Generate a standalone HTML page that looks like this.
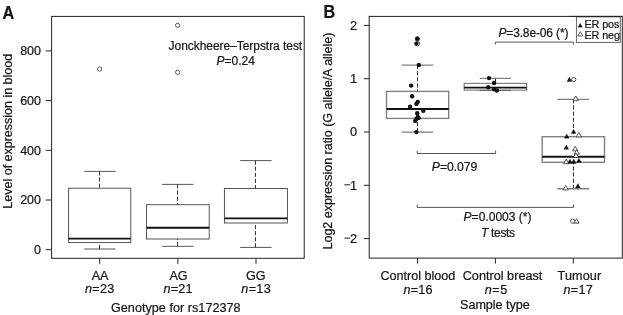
<!DOCTYPE html>
<html>
<head>
<meta charset="utf-8">
<title>Figure</title>
<style>
html,body{margin:0;padding:0;background:#fff;}
body{width:623px;height:315px;overflow:hidden;font-family:"Liberation Sans",sans-serif;}
svg{display:block;will-change:transform;filter:grayscale(1);}
svg text{font-family:"Liberation Sans",sans-serif;fill:#161616;stroke:#161616;stroke-width:0.22px;}
.ax{stroke:#222;stroke-width:1;fill:none;}
.bx{stroke:#444;stroke-width:0.9;fill:none;}
.wh{stroke:#333;stroke-width:1;fill:none;stroke-dasharray:4.1 2;}
.md{stroke:#111;stroke-width:1.9;fill:none;}
.gy{stroke:#808080;stroke-width:1.4;fill:none;}
.oc{stroke:#333;stroke-width:0.8;fill:#fff;}
.fc{fill:#111;stroke:none;}
.ft{fill:#111;stroke:#111;stroke-width:0.3;}
.ot{fill:#fff;stroke:#222;stroke-width:0.75;}
.i{font-style:italic;}
</style>
</head>
<body>
<svg width="623" height="315" viewBox="0 0 623 315">
<rect x="0" y="0" width="623" height="315" fill="#fff"/>

<!-- ================= PANEL A ================= -->
<g id="panelA">
<text transform="translate(2.5 19) scale(1 1.13)" font-size="16.2" font-weight="700">A</text>
<rect class="ax" x="51.6" y="16.4" width="252.6" height="241.9"/>
<!-- y ticks -->
<path class="ax" d="M45.7 50.9H51.6M45.7 100.6H51.6M45.7 150.3H51.6M45.7 200H51.6M45.7 249.7H51.6"/>
<g font-size="12.5" text-anchor="end">
<text x="41" y="55.2">800</text>
<text x="41" y="104.9">600</text>
<text x="41" y="154.6">400</text>
<text x="41" y="204.3">200</text>
<text x="41" y="254">0</text>
</g>
<!-- x ticks -->
<path class="ax" d="M99.7 258.3V263.8M177.9 258.3V263.8M256 258.3V263.8"/>
<g font-size="12.6" text-anchor="middle">
<text x="100.1" y="280.4">AA</text>
<text x="178.6" y="280.4" textLength="18" lengthAdjust="spacing">AG</text>
<text x="255.7" y="280.4" textLength="19.6" lengthAdjust="spacing">GG</text>
<text x="99.6" y="292.8" textLength="29.4" lengthAdjust="spacing"><tspan class="i">n</tspan>=23</text>
<text x="178" y="292.8" textLength="29.2" lengthAdjust="spacing"><tspan class="i">n</tspan>=21</text>
<text x="256" y="292.8" textLength="29.4" lengthAdjust="spacing"><tspan class="i">n</tspan>=13</text>
<text x="175.8" y="311.6" textLength="129.6" lengthAdjust="spacing">Genotype for rs172378</text>
</g>
<text transform="translate(11.5 131.2) rotate(-90)" font-size="12.6" text-anchor="middle" textLength="154.9" lengthAdjust="spacing">Level of expression in blood</text>

<!-- AA -->
<path class="wh" d="M99.5 171.4V188.2M99.5 249V242.6"/>
<path class="bx" d="M84.3 171.4H115.6M84.3 249H115.6"/>
<rect class="bx" x="68.6" y="188.2" width="62.2" height="54.4" fill="#fff"/>
<path class="md" d="M68.6 238.6H130.8"/>
<!-- AG -->
<path class="wh" d="M177.5 184.4V204.7M177.5 246.3V239"/>
<path class="bx" d="M162.2 184.4H193.5M162.2 246.3H193.5"/>
<rect class="bx" x="146.5" y="204.7" width="62.7" height="34.3" fill="#fff"/>
<path class="md" d="M146.5 227.8H209.2"/>
<!-- GG -->
<path class="wh" d="M255.5 160.6V188.5M255.5 247.4V223"/>
<path class="bx" d="M240.1 160.6H271.6M240.1 247.4H271.6"/>
<rect class="bx" x="224.4" y="188.5" width="63" height="34.5" fill="#fff"/>
<path class="md" d="M224.4 218.4H287.4"/>
<!-- outliers -->
<circle class="oc" cx="99.6" cy="69" r="2.1"/>
<circle class="oc" cx="177.6" cy="25.3" r="2.1"/>
<circle class="oc" cx="177.6" cy="72.3" r="2.1"/>
<!-- annotation -->
<text x="168.6" y="49.7" font-size="12" textLength="133.6" lengthAdjust="spacing">Jonckheere–Terpstra test</text>
<text x="216.4" y="64.7" font-size="12" textLength="38.6" lengthAdjust="spacing"><tspan class="i">P</tspan>=0.24</text>
</g>

<!-- ================= PANEL B ================= -->
<g id="panelB">
<text transform="translate(323.4 18) scale(1 1.13)" font-size="16.2" font-weight="700">B</text>
<rect class="ax" x="369.2" y="16.4" width="253.1" height="241.7"/>
<!-- y ticks -->
<path class="ax" d="M363.9 25.4H369.2M363.9 78.7H369.2M363.9 132H369.2M363.9 185.3H369.2M363.9 238.6H369.2"/>
<g font-size="12.7" text-anchor="end">
<text x="357.1" y="29.7">2</text>
<text x="357.1" y="83">1</text>
<text x="357.1" y="136.3">0</text>
<text x="357.1" y="189.6">1</text>
<text x="357.1" y="242.9">2</text>
</g>
<path d="M344.4 184.8H350.2M344.4 238.1H350.2" stroke="#1c1c1c" stroke-width="1" fill="none"/>
<!-- x ticks -->
<path class="ax" d="M417.6 258.1V263.6M495.4 258.1V263.6M573.3 258.1V263.6"/>
<g font-size="12.6" text-anchor="middle">
<text x="417.8" y="280" textLength="74.8" lengthAdjust="spacing">Control blood</text>
<text x="502.5" y="280" textLength="79.6" lengthAdjust="spacing">Control breast</text>
<text x="579.4" y="280" textLength="43.6" lengthAdjust="spacing">Tumour</text>
<text x="418" y="293.8" textLength="29.2" lengthAdjust="spacing"><tspan class="i">n</tspan>=16</text>
<text x="496" y="293.8" textLength="22.4" lengthAdjust="spacing"><tspan class="i">n</tspan>=5</text>
<text x="578.1" y="293.8" textLength="29.2" lengthAdjust="spacing"><tspan class="i">n</tspan>=17</text>
<text x="494.9" y="308.9" textLength="69.7" lengthAdjust="spacing">Sample type</text>
</g>
<text transform="translate(332 141) rotate(-90)" font-size="12.6" text-anchor="middle" textLength="217" lengthAdjust="spacing">Log2 expression ratio (G allele/A allele)</text>

<!-- Control blood -->
<path class="wh" d="M417.5 65.1V91.4M417.5 132.1V118.4"/>
<path class="gy" d="M401.6 65.1H433.2M401.6 132.1H433.2"/>
<rect class="gy" x="386.5" y="91.4" width="62.2" height="27" fill="#fff"/>
<path class="md" d="M386.5 109H448.7"/>
<!-- Control breast -->
<path class="wh" d="M495.5 78.3V83.3"/>
<path class="gy" d="M479.7 78.3H511M479.7 90.4H511" style="stroke:#555;stroke-width:0.9"/>
<rect class="gy" x="464.1" y="83.3" width="62.6" height="6.8" fill="#fff" style="stroke:#5a5a5a;stroke-width:0.9"/>
<path class="md" d="M464.1 87.6H526.7" style="stroke-width:1.6"/>
<!-- Tumour -->
<path class="wh" d="M573.5 99.4V136.7M573.5 188.8V162.3"/>
<path class="gy" d="M557.4 99.4H589.2M557.4 188.8H589.2"/>
<rect class="gy" x="542.2" y="136.7" width="62.3" height="25.6" fill="#fff"/>
<path class="md" d="M542.2 156.7H604.5"/>

<!-- brackets -->
<path class="bx" d="M417.2 150.7V153.5H495.6V150.7"/>
<path class="bx" d="M417.2 204.5V207.4H573.5V204.5"/>
<path class="bx" d="M495.4 44.6V42.1H573.4V44.6"/>
<text x="431.8" y="170.6" font-size="12.2" textLength="45.6" lengthAdjust="spacing"><tspan class="i">P</tspan>=0.079</text>
<text x="463.6" y="220.8" font-size="12" textLength="67.9" lengthAdjust="spacing"><tspan class="i">P</tspan>=0.0003 (*)</text>
<text x="480.9" y="237.4" font-size="12" textLength="34.2" lengthAdjust="spacing"><tspan class="i">T</tspan> tests</text>
<text x="498.4" y="37.1" font-size="12" textLength="70" lengthAdjust="spacing"><tspan class="i">P</tspan>=3.8e-06 (*)</text>

<!-- points: control blood -->
<g>
<circle class="oc" cx="417.4" cy="39" r="2.1"/>
<circle class="oc" cx="417.6" cy="43.8" r="2.1"/>
<circle class="fc" cx="417.3" cy="38.8" r="2.2"/>
<circle class="fc" cx="416.4" cy="43.6" r="2.2"/>
<circle class="fc" cx="418.8" cy="65" r="2.2"/>
<circle class="fc" cx="411.1" cy="85.6" r="2.2"/>
<circle class="fc" cx="412.1" cy="96.3" r="2.2"/>
<circle class="fc" cx="417.7" cy="101.9" r="2.2"/>
<circle class="fc" cx="416.4" cy="103.9" r="2.2"/>
<circle class="fc" cx="410.1" cy="106.7" r="2.2"/>
<circle class="fc" cx="423.3" cy="110.8" r="2.2"/>
<circle class="fc" cx="417.2" cy="113.3" r="2.2"/>
<circle class="fc" cx="417.7" cy="116.9" r="2.2"/>
<circle class="fc" cx="418.7" cy="117.9" r="2.2"/>
<circle class="fc" cx="416.2" cy="119.1" r="2.2"/>
<circle class="fc" cx="415.2" cy="120.9" r="2.2"/>
<circle class="fc" cx="416.4" cy="132.1" r="2.2"/>
</g>
<!-- points: control breast -->
<g>
<circle class="fc" cx="489" cy="78.1" r="2.2"/>
<circle class="fc" cx="494.1" cy="83" r="2.2"/>
<circle class="fc" cx="488.2" cy="87.3" r="2.2"/>
<circle class="fc" cx="494.1" cy="89.2" r="2.2"/>
<circle class="fc" cx="496.9" cy="90.5" r="2.2"/>
</g>
<!-- points: tumour -->
<g>
<circle class="oc" cx="573.8" cy="79.6" r="2.1"/>
<circle class="oc" cx="572.6" cy="221.2" r="2.1"/>
</g>
<defs>
<path id="tri" d="M0 -2.7L2.45 1.6H-2.45Z"/>
<path id="tro" d="M0 -2.9L2.6 1.7H-2.6Z"/>
</defs>
<g>
<use href="#tri" class="ft" x="569.4" y="80"/>
<use href="#tro" class="ot" x="575.8" y="99"/>
<use href="#tri" class="ft" x="573.6" y="132"/>
<use href="#tri" class="ft" x="566.7" y="136.6"/>
<use href="#tro" class="ot" x="578.9" y="135.2"/>
<use href="#tri" class="ft" x="566.3" y="147.7"/>
<use href="#tro" class="ot" x="575.2" y="149.2"/>
<use href="#tro" class="ot" x="576.7" y="152.6"/>
<use href="#tro" class="ot" x="576" y="155.9"/>
<use href="#tro" class="ot" x="566.3" y="162"/>
<use href="#tri" class="ft" x="570" y="161.8"/>
<use href="#tri" class="ft" x="573.8" y="161.8"/>
<use href="#tri" class="ft" x="578.9" y="161"/>
<use href="#tro" class="ot" x="565.7" y="188.3"/>
<use href="#tri" class="ft" x="577.9" y="186.3"/>
<use href="#tro" class="ot" x="576.5" y="221.5"/>
</g>

<!-- legend -->
<rect x="576.4" y="16.9" width="43.9" height="25.5" fill="#fff" stroke="#555" stroke-width="0.9"/><path class="ax" d="M570 16.4H622.3"/>
<use href="#tri" class="ft" transform="translate(580.2 25.7) scale(0.9)"/>
<use href="#tro" class="ot" transform="translate(580.3 34.4) scale(0.95)"/>
<text x="584.4" y="28.3" font-size="10.8" textLength="35" lengthAdjust="spacing">ER pos</text>
<text x="584.4" y="39.4" font-size="10.8" textLength="35.6" lengthAdjust="spacing">ER neg</text>
</g>
</svg>
</body>
</html>
